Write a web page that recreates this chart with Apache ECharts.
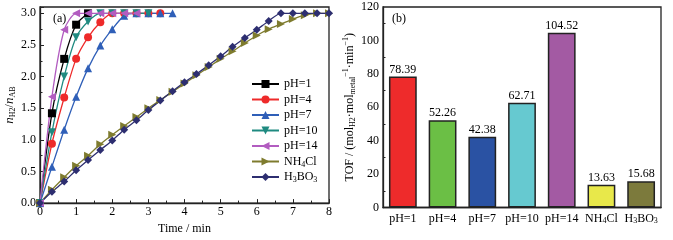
<!DOCTYPE html>
<html>
<head>
<meta charset="utf-8">
<script src="https://cdn.jsdelivr.net/npm/echarts@6/dist/echarts.min.js"></script>
<style>
  html, body { margin: 0; padding: 0; background: #fff; }
  #main { width: 673px; height: 240px; }
</style>
</head>
<body>
<div id="main"></div>
<script>
// time axis (min)
const times = [0, 0.33, 0.67, 1, 1.33, 1.67, 2, 2.33, 2.67, 3, 3.33, 3.67, 4,
  4.33, 4.67, 5, 5.33, 5.67, 6, 6.33, 6.67, 7, 7.33, 7.67, 8];

// n_H2 / n_AB curves
const ph1 = [0, 1.42, 2.28, 2.82, 3.0];
const ph4 = [0, 0.94, 1.67, 2.28, 2.62, 2.86, 3.0, 3.0, 3.0, 3.0, 3.0];
const ph7 = [0, 0.575, 1.16, 1.68, 2.13, 2.49, 2.75, 2.96, 3.0, 3.0, 3.0, 3.0];
const ph10 = [0, 1.12, 2.0, 2.62, 2.87, 3.0, 3.0, 3.0, 3.0, 3.0];
const ph14 = [0, 1.68, 2.74, 3.0, 3.0, 3.0, 3.0, 3.0, 3.0];
const nh4cl = [0, 0.21, 0.41, 0.59, 0.75, 0.93, 1.08, 1.22, 1.36, 1.5, 1.63, 1.76,
  1.89, 2.02, 2.15, 2.28, 2.40, 2.53, 2.65, 2.75, 2.83, 2.91, 2.97, 3.0, 3.0];
const h3bo3 = [0, 0.18, 0.34, 0.52, 0.68, 0.84, 0.99, 1.16, 1.31, 1.47, 1.62, 1.77,
  1.91, 2.04, 2.18, 2.32, 2.47, 2.61, 2.74, 2.88, 3.0, 3.0, 3.0, 3.0, 3.0];

// TOF bars
const tofCats = ['pH=1', 'pH=4', 'pH=7', 'pH=10', 'pH=14', 'NH4Cl', 'H3BO3'];
const tofVals = [78.39, 52.26, 42.38, 62.71, 104.52, 13.63, 15.68];

const FONT = '"Liberation Serif", "Times New Roman", serif';
const subRich = {
  s: { fontSize: 8, lineHeight: 8, verticalAlign: 'bottom', fontFamily: FONT, color: '#000' },
  i: { fontSize: 13, lineHeight: 15, fontStyle: 'italic', fontFamily: FONT, color: '#000' },
  p: { fontSize: 8, lineHeight: 8, verticalAlign: 'top', fontFamily: FONT, color: '#000' },
  n: { fontSize: 12, lineHeight: 15, fontFamily: FONT, color: '#000' }
};
const richName = (n) => ({ NH4Cl: 'NH{s|4}Cl', H3BO3: 'H{s|3}BO{s|3}' }[n] || n);

const lineDefs = [
  { name: 'pH=1', data: ph1, color: '#000000', symbol: 'rect' },
  { name: 'pH=4', data: ph4, color: '#ee2a2a', symbol: 'circle' },
  { name: 'pH=7', data: ph7, color: '#2f5fb8', symbol: 'triangle' },
  { name: 'pH=10', data: ph10, color: '#1f8a80', symbol: 'path://M0,0 L10,0 L5,9 Z' },
  { name: 'pH=14', data: ph14, color: '#b25cc0', symbol: 'path://M0,5 L9,0 L9,10 Z' },
  { name: 'NH4Cl', data: nh4cl, color: '#7e7b2e', symbol: 'path://M0,0 L9,5 L0,10 Z' },
  { name: 'H3BO3', data: h3bo3, color: '#2d2e70', symbol: 'diamond' }
];
const barColors = ['#ee2b2b', '#6bbf45', '#2a52a3', '#66c9d0', '#a35aa3', '#e8e84a', '#7c7a3c'];

const axisLineStyle = { color: '#222', width: 1.3 };

const chart = echarts.init(document.getElementById('main'));
chart.setOption({
  animation: false,
  textStyle: { fontFamily: FONT, color: '#000' },
  title: [
    { text: '(a)', left: 48, top: 8, textStyle: { fontFamily: FONT, fontSize: 12, fontWeight: 'normal', color: '#000' } },
    { text: '(b)', left: 387, top: 8, textStyle: { fontFamily: FONT, fontSize: 12, fontWeight: 'normal', color: '#000' } }
  ],
  legend: {
    orient: 'vertical',
    left: 246, top: 72,
    itemWidth: 27, itemHeight: 10, itemGap: 1.5,
    data: lineDefs.map(d => d.name),
    formatter: richName,
    textStyle: { fontFamily: FONT, fontSize: 12, lineHeight: 14, color: '#000', rich: subRich }
  },
  grid: [
    { left: 40, top: 7, width: 289, height: 200, show: true, borderColor: '#222', borderWidth: 1.3 },
    { left: 383, top: 7, width: 278, height: 200.5, show: true, borderColor: '#222', borderWidth: 1.3 }
  ],
  xAxis: [
    {
      gridIndex: 0, type: 'value', min: 0, max: 8, interval: 1,
      name: 'Time / min', nameLocation: 'middle', nameGap: 17,
      nameTextStyle: { fontFamily: FONT, fontSize: 12, color: '#000' },
      axisLine: { lineStyle: axisLineStyle },
      axisTick: { inside: true, length: 4, lineStyle: { color: '#222' } },
      minorTick: { show: true, splitNumber: 2, length: 2.5, lineStyle: { color: '#222' } },
      axisLabel: { fontFamily: FONT, fontSize: 12, color: '#000', margin: 3 },
      splitLine: { show: false }
    },
    {
      gridIndex: 1, type: 'category', data: tofCats,
      axisLine: { lineStyle: axisLineStyle },
      axisTick: { show: false },
      axisLabel: {
        fontFamily: FONT, fontSize: 12, color: '#000', margin: 5, interval: 0,
        formatter: richName, rich: subRich
      }
    }
  ],
  yAxis: [
    {
      gridIndex: 0, type: 'value', min: 0, max: 3.1, interval: 0.5,
      name: '{i|n}{s|H2}{n|/}{i|n}{s|AB}', nameLocation: 'middle', nameGap: 21, nameRotate: 90,
      nameTextStyle: { fontFamily: FONT, fontSize: 12, color: '#000', rich: subRich },
      axisLine: { show: true, lineStyle: axisLineStyle },
      axisTick: { inside: true, length: 4, lineStyle: { color: '#222' } },
      minorTick: { show: true, splitNumber: 2, length: 2.5, lineStyle: { color: '#222' } },
      axisLabel: {
        fontFamily: FONT, fontSize: 12, color: '#000', margin: 4, showMaxLabel: false,
        formatter: v => v.toFixed(1)
      },
      splitLine: { show: false }
    },
    {
      gridIndex: 1, type: 'value', min: 0, max: 120, interval: 20,
      name: 'TOF / (mol{s|H2}{n|·mol}{s|metal}{p|−1}{n|·min}{p|−1}{n|)}',
      nameLocation: 'middle', nameGap: 22, nameRotate: 90,
      nameTextStyle: { fontFamily: FONT, fontSize: 12, color: '#000', rich: subRich },
      axisLine: { show: true, lineStyle: axisLineStyle },
      axisTick: { inside: true, length: 4, lineStyle: { color: '#222' } },
      minorTick: { show: true, splitNumber: 2, length: 2.5, lineStyle: { color: '#222' } },
      axisLabel: { fontFamily: FONT, fontSize: 12, color: '#000', margin: 4 },
      splitLine: { show: false }
    }
  ],
  series: lineDefs.map(d => ({
    name: d.name,
    type: 'line',
    xAxisIndex: 0, yAxisIndex: 0,
    smooth: 0.25,
    symbol: d.symbol,
    symbolSize: 8,
    showAllSymbol: true,
    color: d.color,
    lineStyle: { color: d.color, width: 1.3 },
    itemStyle: { color: d.color },
    data: d.data.map((v, i) => [times[i], v])
  })).concat([{
    name: 'TOF',
    type: 'bar',
    xAxisIndex: 1, yAxisIndex: 1,
    barWidth: '70%',
    data: tofVals.map((v, i) => ({
      value: v,
      itemStyle: { color: barColors[i], borderColor: '#222', borderWidth: 1.5 }
    })),
    label: {
      show: true, position: 'top', distance: 1,
      fontFamily: FONT, fontSize: 12, color: '#000',
      formatter: p => p.value.toFixed(2)
    }
  }])
});
</script>
</body>
</html>
